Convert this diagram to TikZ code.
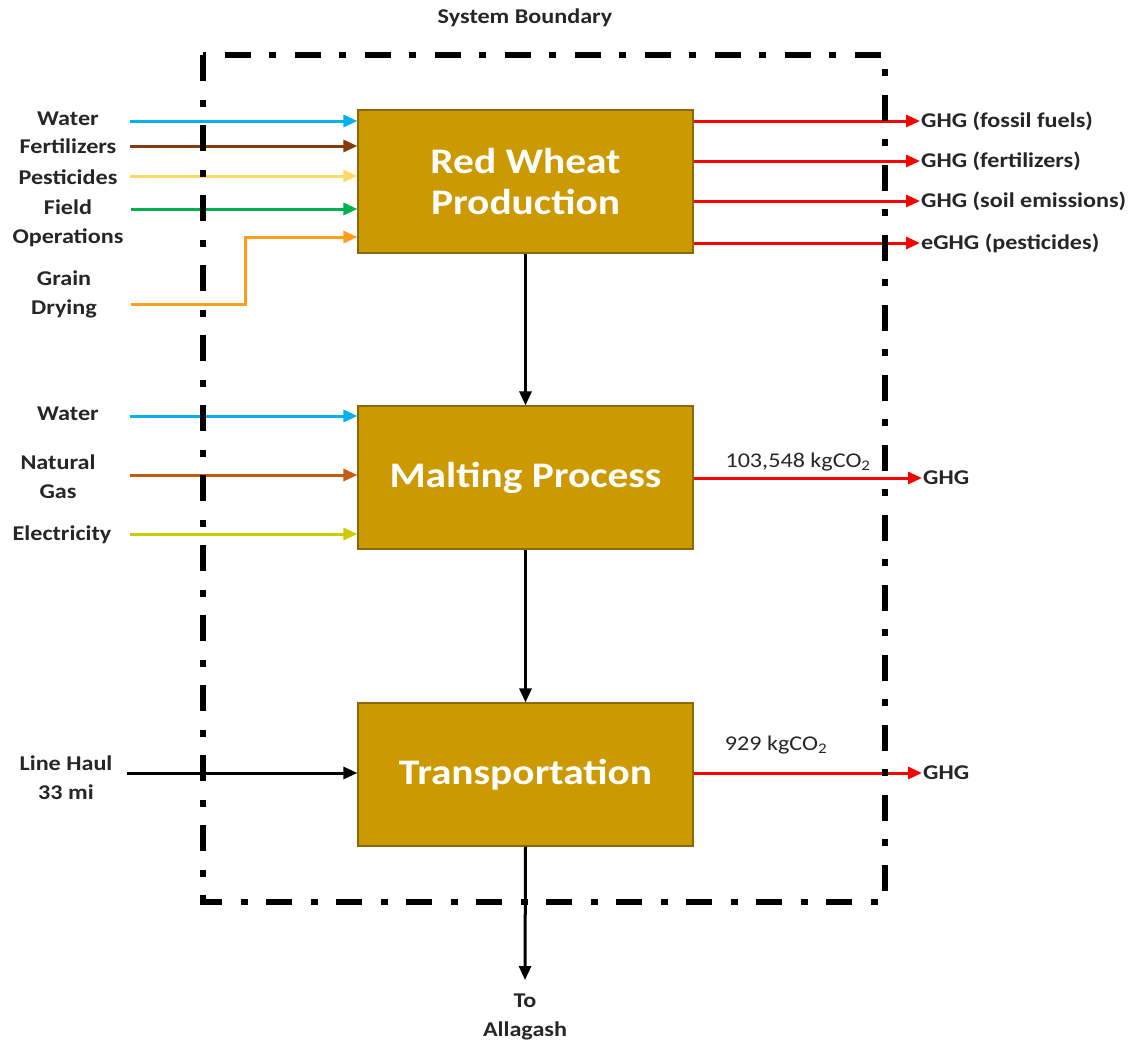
\documentclass[tikz,border=0pt]{standalone}
\usepackage{fontspec}
\setmainfont{Carlito}[FakeStretch=1.15]
\usetikzlibrary{arrows.meta}
\definecolor{boxfill}{HTML}{CC9900}
\definecolor{boxedge}{HTML}{8A6A08}
\definecolor{cwater}{HTML}{00B0F0}
\definecolor{cfert}{HTML}{843C0C}
\definecolor{cpest}{HTML}{FFD966}
\definecolor{cfield}{HTML}{00B050}
\definecolor{cdry}{HTML}{FF9E1B}
\definecolor{cgas}{HTML}{C55A11}
\definecolor{celec}{HTML}{CCCC00}
\definecolor{cghg}{HTML}{FF0000}
\tikzset{
  process/.style={draw=boxedge, fill=boxfill, line width=1.2pt,
    minimum width=335pt, minimum height=143pt, text=white, align=center,
    font=\bfseries\fontsize{36}{41}\selectfont},
  lbl/.style={font=\bfseries\fontsize{21}{29}\selectfont, text=black!85, align=center, inner sep=1pt},
  qty/.style={font=\fontsize{21}{24}\selectfont, text=black!85, inner sep=1pt},
  flow/.style={line width=3pt, -{Triangle[length=14pt,width=12pt]}},
  boundary/.style={line width=5.5pt, dash pattern=on 26pt off 19pt on 7pt off 18pt}
}
\begin{document}
\begin{tikzpicture}[x=1pt,y=-1pt]
\useasboundingbox (0,0) rectangle (1133,1045);

% process boxes
\node[process] (rw) at (525.5,181.5) {Red Wheat\\Production};
\node[process] (mp) at (525.5,477.5) {Malting Process};
\node[process] (tr) at (525.5,774.5) {Transportation};

% inputs to wheat production
\node[lbl] (lwater1) at (68,119) {Water};
\node[lbl] (lfert) at (68,146) {Fertilizers};
\node[lbl] (lpest) at (68,177) {Pesticides};
\node[lbl] (lfield) at (68,223) {Field\\Operations};
\node[lbl] (ldry) at (64,294) {Grain\\Drying};
\coordinate (swater1) at (130,121);
\coordinate (sfert) at (130,146);
\coordinate (spest) at (130,176);
\coordinate (sfield) at (131,209);
\coordinate (sdry) at (131,304);
\coordinate (bdry) at (245,237);
\draw[flow, cwater] (swater1) -- (swater1 -| rw.west);
\draw[flow, cfert] (sfert) -- (sfert -| rw.west);
\draw[flow, cpest] (spest) -- (spest -| rw.west);
\draw[flow, cfield] (sfield) -- (sfield -| rw.west);
\draw[flow, cdry] (sdry) -| (bdry) -- (bdry -| rw.west);

% inputs to malting
\node[lbl] (lwater2) at (68,414) {Water};
\node[lbl] (lgas) at (58,477) {Natural\\Gas};
\node[lbl] (lelec) at (62,535) {Electricity};
\coordinate (swater2) at (130,416);
\coordinate (sgas) at (130,475);
\coordinate (selec) at (130,534);
\draw[flow, cwater] (swater2) -- (swater2 -| mp.west);
\draw[flow, cgas] (sgas) -- (sgas -| mp.west);
\draw[flow, celec] (selec) -- (selec -| mp.west);

% input to transportation
\node[lbl] (lhaul) at (66,778) {Line Haul\\33 mi};
\coordinate (shaul) at (127,773);
\draw[flow, black] (shaul) -- (shaul -| tr.west);

% emissions
\node[lbl, anchor=west] (g1) at (920,121) {GHG (fossil fuels)};
\node[lbl, anchor=west] (g2) at (920,161) {GHG (fertilizers)};
\node[lbl, anchor=west] (g3) at (920,201) {GHG (soil emissions)};
\node[lbl, anchor=west] (g4) at (920,243) {eGHG (pesticides)};
\node[lbl, anchor=west] (g5) at (922,478) {GHG};
\node[lbl, anchor=west] (g6) at (922,773) {GHG};
\foreach \g in {g1,g2,g3,g4} \draw[flow, cghg] (\g.west -| rw.east) -- (\g.west);
\draw[flow, cghg] (g5.west -| mp.east) -- (g5.west);
\draw[flow, cghg] (g6.west -| tr.east) -- (g6.west);
\node[qty] (q1) at (798,462) {103,548 kgCO\textsubscript{2}};
\node[qty] (q2) at (776,745) {929 kgCO\textsubscript{2}};

% main chain
\node[lbl] (dest) at (525,1017) {To\\Allagash};
\coordinate (tip) at (525,980);
\draw[flow, black] (rw.south) -- (mp.north);
\draw[flow, black] (mp.south) -- (tr.north);
\draw[flow, black] (tr.south) -- (tip);

% system boundary
\draw[boundary] (203,55) rectangle (885,902);
\node[lbl] (sb) at (525,18) {System Boundary};
\end{tikzpicture}
\end{document}
